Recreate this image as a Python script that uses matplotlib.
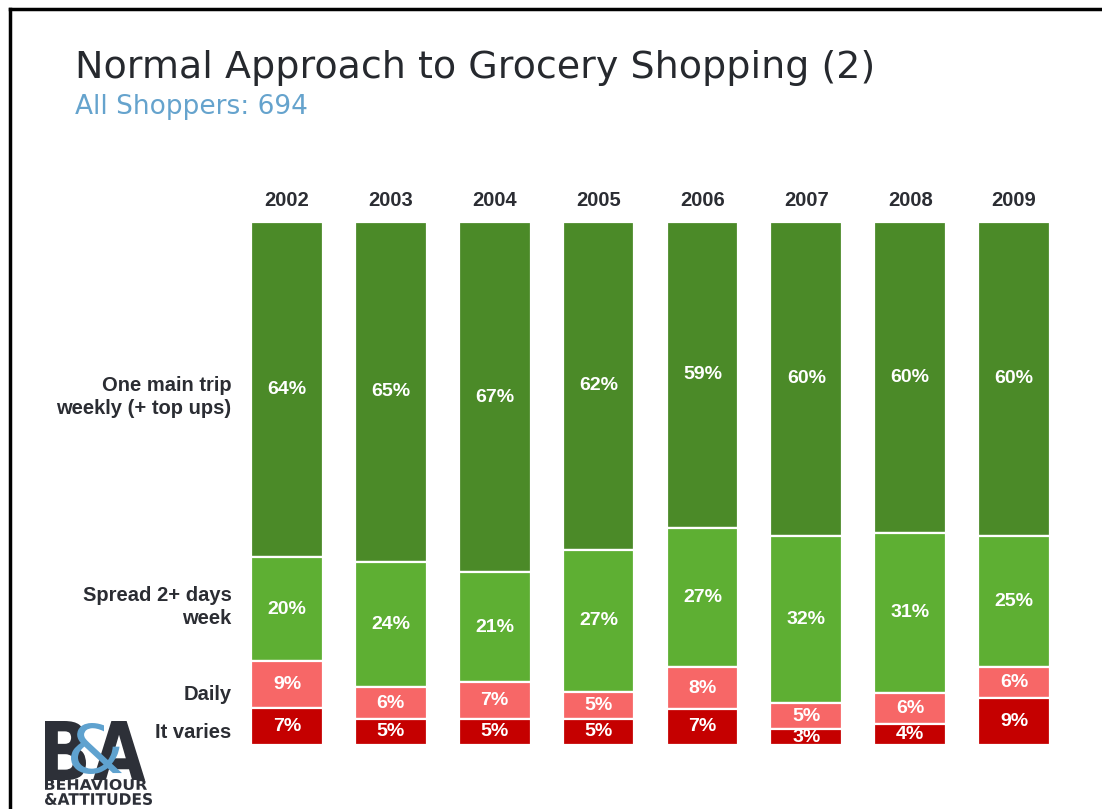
import numpy as np
import matplotlib
matplotlib.use('Agg')
import matplotlib.pyplot as plt
from matplotlib.lines import Line2D
from matplotlib.textpath import TextPath
from matplotlib.patches import PathPatch
from matplotlib.font_manager import FontProperties
import matplotlib.transforms as mtransforms

# survey results, % of all shoppers
years = ['2002', '2003', '2004', '2005', '2006', '2007', '2008', '2009']
main_trip = [64, 65, 67, 62, 59, 60, 60, 60]
spread = [20, 24, 21, 27, 27, 32, 31, 25]
daily = [9, 6, 7, 5, 8, 5, 6, 6]
varies = [7, 5, 5, 5, 7, 3, 4, 9]

series = [main_trip, spread, daily, varies]
names = ['One main trip\nweekly (+ top ups)', 'Spread 2+ days\nweek', 'Daily', 'It varies']
colors = ['#4b8a28', '#5eaf33', '#f76767', '#c50000']

W, H = 1102, 809
fig = plt.figure(figsize=(W / 100, H / 100), dpi=100)
fig.patch.set_facecolor('white')

ax_top, ax_h = 222, 523
ax = fig.add_axes([235 / W, (H - ax_top - ax_h) / H, 831 / W, ax_h / H])

vals = np.array(series, dtype=float)
shares = vals / vals.sum(axis=0)
x = np.arange(len(years))
bottom = np.zeros(len(years))
for i in range(len(series)):
    ax.bar(x, shares[i], bottom=bottom, width=0.69, color=colors[i],
           edgecolor='white', linewidth=1.6)
    for j in range(len(years)):
        ax.text(x[j], bottom[j] + shares[i][j] / 2, f'{series[i][j]}%',
                ha='center', va='center', color='white', fontsize=14,
                fontweight='bold', family='Liberation Sans', clip_on=True)
    bottom += shares[i]

# category names down the left side (pixel rows from the top)
side = mtransforms.blended_transform_factory(ax.transAxes, ax.transData)
for name, row in zip(names, [397, 607, 694, 732]):
    ax.text(-0.004, (row - ax_top) / ax_h, name, transform=side,
            ha='right', va='center', color='#2b2d33', fontsize=14.5,
            fontweight='bold', family='Liberation Sans', linespacing=1.25)

ax.set_xlim(-0.5, len(years) - 0.5)
ax.set_ylim(1, 0)
ax.xaxis.tick_top()
ax.set_xticks(x)
ax.set_xticklabels(years, fontsize=14.5, fontweight='bold', color='#2b2d33',
                   family='Liberation Sans')
ax.tick_params(axis='x', length=0, pad=9)
ax.set_yticks([])
for s in ax.spines.values():
    s.set_visible(False)

# headings
fig.text(75 / W, 1 - 68 / H, 'Normal Approach to Grocery Shopping (2)',
         fontsize=27.4, color='#26292e', va='center', ha='left', family='DejaVu Sans')
fig.text(75 / W, 1 - 107 / H, 'All Shoppers: 694',
         fontsize=19, color='#65a3cd', va='center', ha='left', family='DejaVu Sans')

# slide frame
fig.add_artist(Line2D([10 / W, 1], [1 - 9 / H, 1 - 9 / H], color='black', lw=2.5,
                      transform=fig.transFigure))
fig.add_artist(Line2D([10 / W, 10 / W], [0, 1 - 9 / H], color='black', lw=2.5,
                      transform=fig.transFigure))

# logo, each piece squeezed into its box (pixel coords, y from top)
bold = FontProperties(family='DejaVu Sans', weight='bold')
light = FontProperties(family='DejaVu Sans')


def logo_piece(s, x0, x1, y0, y1, color, prop=bold):
    tp = TextPath((0, 0), s, size=50, prop=prop)
    ext = tp.get_extents()
    sx = (x1 - x0) / ext.width
    sy = (y1 - y0) / ext.height
    tr = (mtransforms.Affine2D()
          .translate(-ext.x0, -ext.y0)
          .scale(sx / 100, sy / 100)
          .translate(x0 / 100, (H - y1) / 100)) + fig.dpi_scale_trans
    fig.add_artist(PathPatch(tp, facecolor=color, edgecolor='none', transform=tr))


logo_piece('B', 45, 86, 721, 780, '#2d3038')
logo_piece('A', 93, 145, 721, 780, '#2d3038')
logo_piece('&', 71, 122, 723, 774, '#5fa2cf', light)
logo_piece('BEHAVIOUR', 45, 147, 779, 790, '#2d3038')
logo_piece('&ATTITUDES', 45, 152, 793, 805, '#2d3038')

fig.savefig('out.png', dpi=100)
